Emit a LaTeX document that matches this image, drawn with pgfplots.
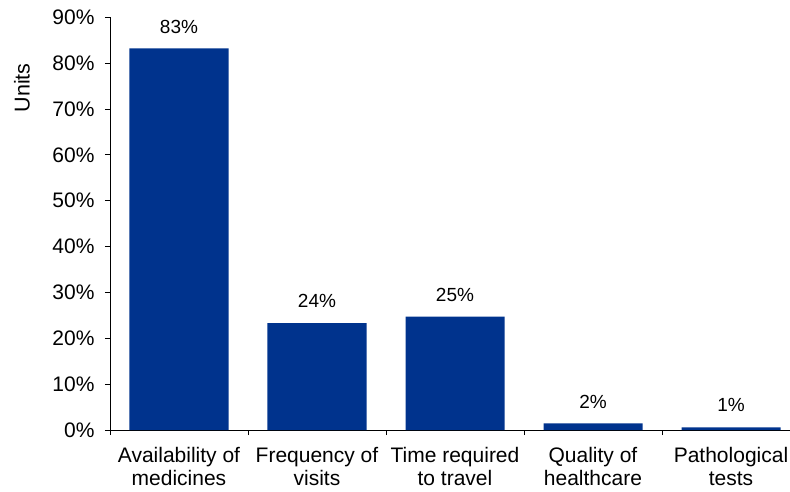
\documentclass[border=0pt]{standalone}
\usepackage{pgfplots}
\pgfplotsset{compat=1.18}
\usepackage{fontspec}
\setmainfont{Liberation Sans}
\definecolor{barblue}{RGB}{0,51,141}
\begin{document}
\begin{tikzpicture}[x=1pt,y=1pt]
\path[use as bounding box] (0,0) rectangle (790,491);
\begin{axis}[
  at={(110pt,61pt)}, anchor=south west,
  scale only axis, width=690pt, height=412.7pt,
  xmin=-0.5, xmax=4.5, ymin=0, ymax=90,
  axis x line*=bottom, axis y line*=left,
  axis line style={-, black, line width=0.8pt},
  ybar, bar width=99pt,
  ytick={0,10,...,90},
  yticklabels={0\%,10\%,20\%,30\%,40\%,50\%,60\%,70\%,80\%,90\%},
  xtick={0,1,2,3,4},
  xticklabels={{Availability of\\medicines},{Frequency of\\visits},{Time required\\to travel},{Quality of\\healthcare},{Pathological\\tests}},
  minor xtick={-0.5,0.5,1.5,2.5,3.5,4.5},
  major x tick style={draw=none},
  tick align=outside,
  major tick length=5pt, minor tick length=5pt,
  tick style={black, line width=0.8pt},
  y tick label style={font=\fontsize{21}{24}\selectfont, xshift=-7pt},
  x tick label style={font=\fontsize{21}{23}\selectfont, align=center, yshift=-9pt},
  ylabel={Units},
  ylabel style={at={(axis description cs:-0.1275,0.829)}, anchor=center, font=\fontsize{21.5}{24}\selectfont},
  nodes near coords,
  point meta=explicit symbolic,
  every node near coord/.append style={font=\fontsize{19}{22}\selectfont, inner sep=0pt, anchor=south, yshift=15pt, black},
]
\addplot[fill=barblue, draw=none] coordinates {
  (0,83.2) [83\%]
  (1,23.3) [24\%]
  (2,24.7) [25\%]
  (3,1.45) [2\%]
  (4,0.6) [1\%]
};
\end{axis}
\end{tikzpicture}
\end{document}
